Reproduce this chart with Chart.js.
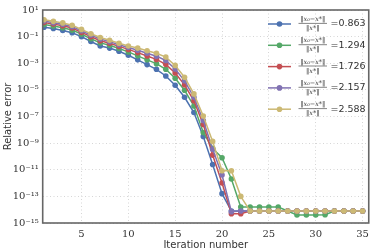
<!DOCTYPE html>
<html><head><meta charset="utf-8">
<script src="https://cdn.jsdelivr.net/npm/chart.js@4/dist/chart.umd.min.js"></script>
<style>html,body{margin:0;padding:0;background:#fff;overflow:hidden}#wrap{position:relative;width:374px;height:251px}</style>
</head><body><div id="wrap"><canvas id="c" width="374" height="251"></canvas></div>
<script>
const iterations = [1,2,3,4,5,6,7,8,9,10,11,12,13,14,15,16,17,18,19,20,21,22,23,24,25,26,27,28,29,30,31,32,33,34,35];
const xTickValues = [5,10,15,20,25,30,35];
const yTickExponents = [1,-1,-3,-5,-7,-9,-11,-13,-15];
const initialErrors = ['0.863','1.294','1.726','2.157','2.588'];
const colors = ['#4C72B0','#55A868','#C44E52','#8172B2','#CCB974'];

const err0863 = [0.51,0.41,0.29,0.195,0.10,0.043,0.020,0.0138,7.9e-3,4.0e-3,1.8e-3,7.9e-4,3.5e-4,1.1e-4,2.2e-5,2.8e-6,2.0e-7,3.2e-9,2.5e-11,1.6e-13,
  7.9e-15,7.9e-15,7.9e-15,7.9e-15,7.9e-15,7.9e-15,7.9e-15,7.9e-15,7.9e-15,7.9e-15,7.9e-15,7.9e-15,7.9e-15,7.9e-15,7.9e-15];
const err1294 = [0.81,0.63,0.46,0.31,0.155,0.069,0.034,0.0224,0.0129,7.1e-3,3.6e-3,1.8e-3,9.3e-4,3.5e-4,7.4e-5,9.3e-6,6.2e-7,6.3e-9,4.0e-10,7.9e-11,
  2.0e-12,1.6e-14,1.6e-14,1.6e-14,1.6e-14,1.6e-14,7.9e-15,4.0e-15,4.0e-15,4.0e-15,4.2e-15,7.9e-15,7.9e-15,7.9e-15,7.9e-15];
const err1726 = [1.15,0.87,0.65,0.44,0.21,0.10,0.049,0.032,0.0186,0.011,6.3e-3,3.5e-3,1.95e-3,8.3e-4,1.86e-4,2.4e-5,1.5e-6,2.5e-8,1.26e-10,1.0e-12,
  5.0e-15,5.0e-15,7.9e-15,7.9e-15,7.9e-15,7.9e-15,7.9e-15,7.9e-15,7.9e-15,7.9e-15,7.9e-15,7.9e-15,7.9e-15,7.9e-15,7.9e-15];
const err2157 = [1.48,1.12,0.85,0.56,0.275,0.129,0.066,0.042,0.0245,0.0151,9.5e-3,5.6e-3,3.4e-3,1.62e-3,3.7e-4,4.8e-5,2.8e-6,5.0e-8,3.5e-10,4.0e-12,
  7.1e-15,7.9e-15,7.9e-15,7.9e-15,7.9e-15,7.9e-15,7.9e-15,7.9e-15,7.9e-15,7.9e-15,7.9e-15,7.9e-15,7.9e-15,7.9e-15,7.9e-15];
const err2588 = [1.86,1.41,1.07,0.71,0.35,0.166,0.085,0.054,0.032,0.020,0.0138,8.7e-3,5.6e-3,2.9e-3,6.9e-4,8.9e-5,5.0e-6,1.1e-7,1.35e-9,8.5e-12,
  8.5e-12,1.0e-13,7.9e-15,7.9e-15,7.9e-15,7.9e-15,7.9e-15,7.9e-15,7.9e-15,7.9e-15,7.9e-15,7.9e-15,7.9e-15,7.9e-15,7.9e-15];
const seriesValues = [err0863, err1294, err1726, err2157, err2588];

const SUP = {'-':'\u207B','0':'\u2070','1':'\u00B9','2':'\u00B2','3':'\u00B3','4':'\u2074','5':'\u2075','6':'\u2076','7':'\u2077','8':'\u2078','9':'\u2079'};
function sup(s){return String(s).split('').map(c=>SUP[c]||c).join('');}

const datasets = seriesValues.map((vals, i) => ({
  label: initialErrors[i],
  data: iterations.map((x, k) => ({x: x, y: vals[k]})),
  borderColor: colors[i],
  backgroundColor: colors[i],
  pointBackgroundColor: colors[i],
  pointBorderWidth: 0,
  pointRadius: 2.8,
  borderWidth: 1.5,
  tension: 0,
  order: 5 - i
}));

const frameAndLegend = {
  id: 'frameAndLegend',
  afterDraw(chart) {
    const ctx = chart.ctx, a = chart.chartArea;
    ctx.save();
    ctx.strokeStyle = '#666666';
    ctx.lineWidth = 1.6;
    ctx.strokeRect(a.left, a.top, a.right - a.left, a.bottom - a.top);
    chart.data.datasets.forEach((ds, i) => {
      const y = 24 + i * 21.3;
      ctx.strokeStyle = ds.borderColor;
      ctx.lineWidth = 1.5;
      ctx.beginPath(); ctx.moveTo(268, y); ctx.lineTo(291, y); ctx.stroke();
      ctx.fillStyle = ds.borderColor;
      ctx.beginPath(); ctx.arc(279.5, y, 2.8, 0, Math.PI * 2); ctx.fill();
      ctx.fillStyle = '#333';
      ctx.textAlign = 'center';
      ctx.textBaseline = 'middle';
      ctx.font = 'italic 6.5px "DejaVu Serif"';
      ctx.fillText('\u2016x\u2080\u2212x*\u2016', 312.8, y - 4.6);
      ctx.fillText('\u2016x*\u2016', 312.8, y + 4.4);
      ctx.strokeStyle = '#333';
      ctx.lineWidth = 0.6;
      ctx.beginPath(); ctx.moveTo(298.5, y - 0.6); ctx.lineTo(327, y - 0.6); ctx.stroke();
      ctx.textAlign = 'left';
      ctx.font = '9.5px "DejaVu Sans"';
      ctx.fillText('=' + ds.label, 330.5, y);
    });
    ctx.restore();
  }
};

new Chart(document.getElementById('c'), {
  type: 'line',
  data: { datasets },
  options: {
    responsive: false,
    animation: false,
    devicePixelRatio: 1,
    layout: { padding: { top: 5.5, right: 3.5, left: 0, bottom: 0 } },
    plugins: { legend: { display: false }, tooltip: { enabled: false } },
    scales: {
      x: {
        type: 'linear',
        min: 0.86, max: 35.66,
        afterBuildTicks: s => { s.ticks = xTickValues.map(v => ({ value: v })); },
        grid: { color: '#d6d6d6', lineWidth: 1, drawTicks: false },
        border: { display: false, dash: [1, 2.5] },
        ticks: { padding: 5, color: '#333', font: { family: '"DejaVu Serif"', size: 10 }, callback: v => String(v), maxRotation: 0 },
        title: { display: true, text: 'Iteration number', color: '#333', font: { family: '"DejaVu Sans"', size: 10 }, padding: { top: 2, bottom: 0 } },
        afterFit: s => { s.height = 28; }
      },
      y: {
        type: 'logarithmic',
        min: 1e-15, max: 10,
        afterBuildTicks: s => { s.ticks = yTickExponents.map(e => ({ value: Math.pow(10, e) })); },
        grid: { color: '#d6d6d6', lineWidth: 1, drawTicks: false },
        border: { display: false, dash: [1, 2.5] },
        ticks: { padding: 4, color: '#333', font: { family: '"DejaVu Serif"', size: 10 },
          callback: v => '10' + sup(Math.round(Math.log10(v))) },
        title: { display: true, text: 'Relative error', color: '#333', font: { family: '"DejaVu Sans"', size: 10 }, padding: { top: 2, bottom: 0 } },
        afterFit: s => { s.width = 42.7; }
      }
    }
  },
  plugins: [frameAndLegend]
});
</script></body></html>
